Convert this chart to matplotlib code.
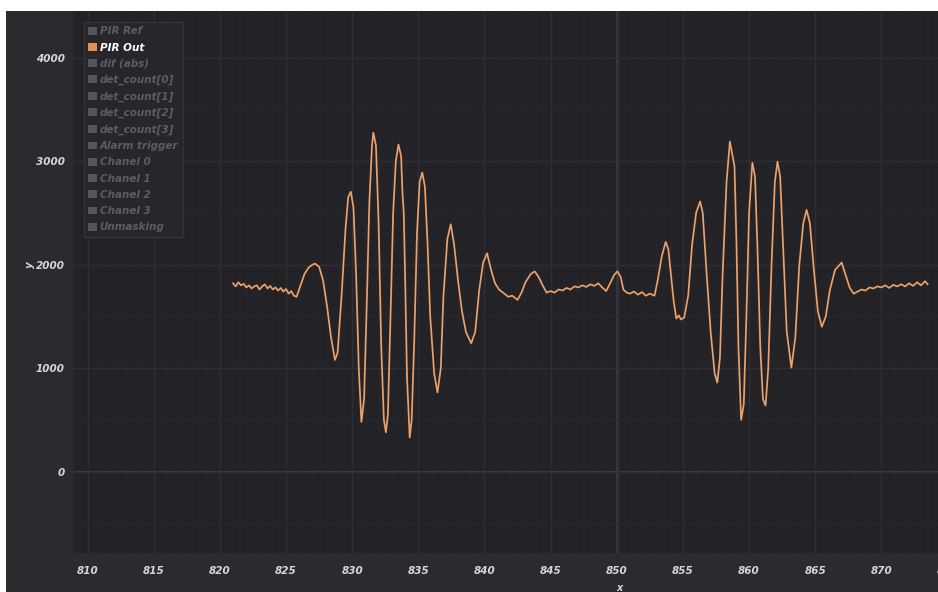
import matplotlib.pyplot as plt
from matplotlib.patches import Patch, Rectangle
import numpy as np

# PIR output trace (time, value)
t = [821.0, 821.2, 821.4, 821.6, 821.8, 822.0, 822.2, 822.4, 822.6, 822.8,
     823.0, 823.2, 823.4, 823.6, 823.8, 824.0, 824.2, 824.4, 824.6, 824.8,
     825.0, 825.2, 825.4, 825.6, 825.8, 826.1, 826.4, 826.7, 827.0, 827.2,
     827.5, 827.8, 828.1, 828.4, 828.7, 828.9, 829.2, 829.5, 829.7, 829.9,
     830.1, 830.3, 830.5, 830.7, 830.9, 831.1, 831.3, 831.5, 831.6, 831.8,
     832.0, 832.2, 832.4, 832.55, 832.7, 832.9, 833.1, 833.3, 833.5, 833.7,
     833.8, 833.9, 834.0, 834.15, 834.35, 834.5, 834.7, 834.9, 835.1, 835.3,
     835.5, 835.7, 835.9, 836.2, 836.45, 836.7, 836.9, 837.2, 837.45, 837.7,
     838.0, 838.3, 838.6, 839.0, 839.3, 839.6, 839.9, 840.2, 840.5, 840.8,
     841.1, 841.5, 841.8, 842.1, 842.5, 842.8, 843.1, 843.5, 843.8, 844.1,
     844.4, 844.7, 845.0, 845.3, 845.6, 845.9, 846.2, 846.5, 846.8, 847.1,
     847.4, 847.7, 848.0, 848.3, 848.6, 848.9, 849.2, 849.5, 849.8, 850.05,
     850.3, 850.5, 850.75, 851.0, 851.3, 851.6, 851.9, 852.2, 852.5, 852.85,
     853.1, 853.4, 853.7, 853.9, 854.1, 854.3, 854.5, 854.7, 854.85, 855.1,
     855.4, 855.7, 856.0, 856.3, 856.5, 856.8, 857.1, 857.4, 857.6, 857.8,
     858.0, 858.3, 858.55, 858.75, 858.9, 859.05, 859.2, 859.4, 859.6, 859.8,
     860.0, 860.25, 860.45, 860.65, 860.85, 861.05, 861.25, 861.45, 861.7, 861.95,
     862.15, 862.35, 862.6, 862.85, 863.2, 863.5, 863.8, 864.1, 864.35, 864.6,
     864.9, 865.2, 865.5, 865.8, 866.1, 866.5, 867.0, 867.3, 867.6, 867.9,
     868.2, 868.5, 868.8, 869.1, 869.4, 869.7, 870.0, 870.3, 870.6, 870.9,
     871.2, 871.5, 871.8, 872.1, 872.4, 872.7, 873.0, 873.3, 873.5]
pir_out = [1820, 1790, 1830, 1800, 1815, 1780, 1800, 1770, 1790, 1800,
           1760, 1790, 1810, 1770, 1795, 1760, 1780, 1750, 1775, 1740,
           1765, 1720, 1745, 1700, 1690, 1800, 1910, 1970, 2000, 2010,
           1980, 1850, 1600, 1300, 1080, 1150, 1700, 2350, 2650, 2705,
           2550, 1900, 1000, 480, 700, 1600, 2600, 3150, 3275, 3150,
           2400, 1200, 500, 380, 550, 1500, 2500, 3000, 3160, 3050,
           2700, 2500, 1900, 900, 330, 500, 1300, 2300, 2800, 2890,
           2750, 2200, 1500, 950, 765, 1000, 1700, 2250, 2390, 2200,
           1850, 1550, 1350, 1240, 1350, 1750, 2020, 2110, 1950, 1820,
           1760, 1720, 1690, 1700, 1660, 1730, 1830, 1910, 1935, 1880,
           1800, 1730, 1745, 1730, 1760, 1750, 1775, 1760, 1790, 1780,
           1800, 1785, 1810, 1795, 1820, 1780, 1745, 1820, 1900, 1935,
           1880, 1760, 1730, 1720, 1740, 1710, 1735, 1700, 1720, 1700,
           1850, 2080, 2220, 2150, 1900, 1650, 1480, 1510, 1470, 1490,
           1700, 2200, 2500, 2610, 2500, 1900, 1350, 950, 860, 1100,
           1900, 2800, 3190, 3050, 2950, 2200, 1200, 500, 650, 1500,
           2500, 2985, 2850, 2100, 1200, 700, 640, 1000, 2000, 2800,
           2995, 2850, 2100, 1350, 1005, 1300, 2000, 2400, 2530, 2400,
           1950, 1550, 1400, 1500, 1750, 1950, 2020, 1900, 1780, 1720,
           1740, 1760, 1750, 1780, 1770, 1790, 1780, 1800, 1775, 1805,
           1790, 1810, 1790, 1820, 1795, 1830, 1800, 1840, 1810]

legend_labels = ["PIR Ref", "PIR Out", "dif (abs)", "det_count[0]", "det_count[1]",
                 "det_count[2]", "det_count[3]", "Alarm trigger", "Chanel 0",
                 "Chanel 1", "Chanel 2", "Chanel 3", "Unmasking"]
active = "PIR Out"

xticks = [810, 815, 820, 825, 830, 835, 840, 845, 850, 855, 860, 865, 870, 875]
yticks = [0, 1000, 2000, 3000, 4000]

ORANGE = "#e08f55"
PANEL = "#2a2a2f"
PLOT_BG = "#222227"
TXT = "#d6d6d8"

fig = plt.figure(figsize=(9.38, 5.92), dpi=100)
fig.patch.set_facecolor("white")
fig.add_artist(Rectangle((6/938, 0), 1, 1 - 11/592, transform=fig.transFigure,
                         facecolor=PANEL, edgecolor="none", zorder=-10))

ax = fig.add_axes([73/938, 39/592, (876 - 808.9) * 13.23 / 938, 542/592])
ax.set_facecolor(PLOT_BG)
for s in ax.spines.values():
    s.set_visible(False)

ax.set_xlim(808.9, 876)
ax.set_ylim(-785, 4450)
ax.set_xticks(xticks)
ax.set_yticks(yticks)
ax.set_xticks(np.arange(809, 877, 1), minor=True)
ax.set_yticks(np.arange(-500, 4500, 500), minor=True)
ax.grid(True, which="major", color="#2e2e34", lw=1.0)
ax.grid(True, which="minor", color="#26262b", lw=0.8)
ax.axvline(850, color="#3c3c42", lw=2.0, zorder=1)
ax.axhline(0, color="#3c3c42", lw=1.5, zorder=1)
ax.tick_params(which="both", length=0, colors=TXT, pad=6)
for lab in ax.get_xticklabels() + ax.get_yticklabels():
    lab.set_fontsize(7.5)
    lab.set_fontweight("bold")
    lab.set_fontstyle("italic")
    lab.set_color(TXT)
ax.tick_params(axis="x", pad=9)

ax.plot(t, pir_out, color=ORANGE, lw=1.3, zorder=3)
ax.plot(t, pir_out, color="#f4d6bf", lw=0.5, alpha=0.45, zorder=4)

handles = [Patch(facecolor=(ORANGE if l == active else "#55555a"), edgecolor="none")
           for l in legend_labels]
leg = ax.legend(handles, legend_labels, loc="upper left", bbox_to_anchor=(0.006, 0.99),
                frameon=True, fancybox=False, handlelength=0.8, handleheight=0.8,
                handletextpad=0.3, labelspacing=0.6, borderpad=0.45,
                prop={"size": 7.5, "weight": "bold", "style": "italic"})
leg.get_frame().set_facecolor("#26262b")
leg.get_frame().set_edgecolor("#34343a")
leg.get_frame().set_alpha(1)
for txt in leg.get_texts():
    txt.set_color("white" if txt.get_text() == active else "#5c5c61")

fig.text(30/938, 1 - 265/592, "y", rotation=90, ha="center", va="center",
         fontsize=7.5, fontweight="bold", fontstyle="italic", color=TXT)
fig.text(620/938, 1 - 588/592, "x", ha="center", va="center",
         fontsize=7, fontweight="bold", fontstyle="italic", color=TXT)

fig.savefig("out.png", dpi=100, facecolor=fig.get_facecolor())
